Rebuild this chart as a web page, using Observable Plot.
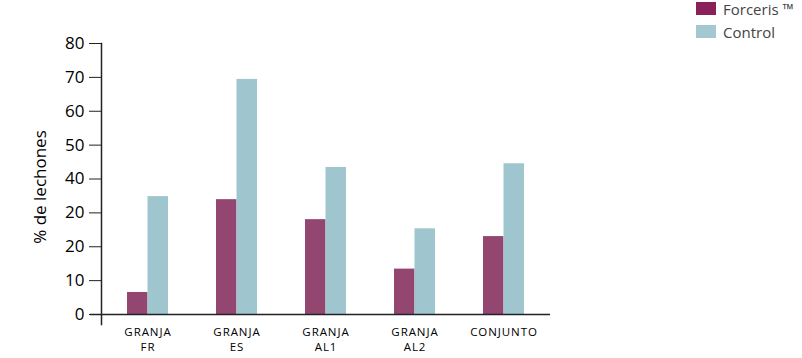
<!DOCTYPE html>
<html>
<head>
<meta charset="utf-8">
<script src="https://cdn.jsdelivr.net/npm/d3@7"></script>
<script src="https://cdn.jsdelivr.net/npm/@observablehq/plot@0.6"></script>
<style>
  html, body { margin: 0; padding: 0; background: #fff; }
  #wrap { position: relative; width: 802px; height: 358px; font-family: "Open Sans", sans-serif; }
  #legend { position: absolute; left: 696px; top: -3px; font-size: 15px; line-height: 18px; color: #444; }
  .item { display: flex; align-items: center; height: 23px; }
  .sw { width: 20px; height: 13px; margin-right: 7px; }
  g[aria-label="x-axis tick label"] text { letter-spacing: 0.08em; }
</style>
</head>
<body>
<div id="wrap"><div id="legend"></div></div>
<script>
const categories = ["GRANJA\nFR", "GRANJA\nES", "GRANJA\nAL1", "GRANJA\nAL2", "CONJUNTO"];
const series = ["Forceris ™", "Control"];
const forceris = [6.5, 33.9, 28.0, 13.4, 23.0];
const control = [34.8, 69.4, 43.4, 25.3, 44.5];
const yTicks = [0, 10, 20, 30, 40, 50, 60, 70, 80];
const yTickLabels = ["0", "10", "20", "20", "40", "50", "60", "70", "80"];
const barColors = ["#924670", "#9fc5cf"];
const legendColors = ["#8a2159", "#a3c8d2"];

const data = [];
categories.forEach((c, i) => {
  data.push({cat: c, s: series[0], v: forceris[i]});
  data.push({cat: c, s: series[1], v: control[i]});
});

const chart = Plot.plot({
  width: 802,
  height: 358,
  marginLeft: 101,
  marginRight: 252,
  marginTop: 43,
  marginBottom: 44,
  style: {fontFamily: "'Open Sans', sans-serif", color: "#000", background: "transparent"},
  x: {domain: categories, paddingInner: 0.543, paddingOuter: 0.275, label: null},
  y: {domain: [0, 80], label: null},
  color: {domain: series, range: barColors},
  marks: [
    Plot.barY(data.filter(d => d.s === series[0]), {x: "cat", y: "v", fill: "s", insetRight: 20.5, insetLeft: 0}),
    Plot.barY(data.filter(d => d.s === series[1]), {x: "cat", y: "v", fill: "s", insetLeft: 20.5, insetRight: 0}),
    Plot.axisY({ticks: yTicks, tickFormat: (d) => yTickLabels[yTicks.indexOf(d)], tickSize: 12, tickPadding: 5, fontSize: 17, label: "% de lechones", labelAnchor: "center", labelArrow: "none", labelOffset: 68, stroke: "#222"}),
    Plot.axisX({tickSize: 0, tickPadding: 11, fontSize: 11.5, lineHeight: 1.3, label: null}),
    Plot.frame({anchor: "left", insetBottom: -10, stroke: "#222", strokeWidth: 1.5}),
    Plot.ruleY([0], {insetLeft: -11, stroke: "#222", strokeWidth: 1.5})
  ]
});
document.getElementById("wrap").appendChild(chart);
chart.style.position = "absolute";
chart.style.left = "0";
chart.style.top = "0";
chart.querySelectorAll("g[aria-label='y-axis label'] text").forEach(t => {
  t.setAttribute("font-size", 17);
  t.setAttribute("dx", "-8");
});

const leg = document.getElementById("legend");
series.forEach((s, i) => {
  const it = document.createElement("div");
  it.className = "item";
  it.innerHTML = `<span class="sw" style="background:${legendColors[i]}"></span><span>${s}</span>`;
  leg.appendChild(it);
});
</script>
</body>
</html>
